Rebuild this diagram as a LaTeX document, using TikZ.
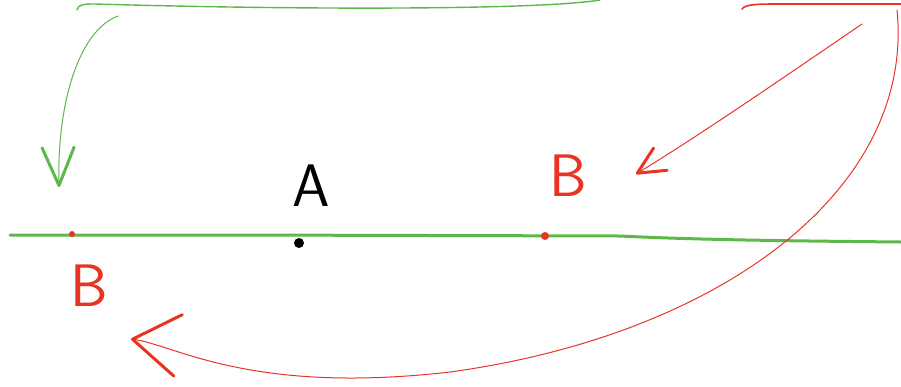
\documentclass[tikz,border=0pt]{standalone}
\usepackage{tikz}
\usetikzlibrary{arrows.meta,positioning}
\definecolor{sketchgreen}{RGB}{92,184,72}
\definecolor{sketchred}{RGB}{234,52,35}

\begin{document}
\begin{tikzpicture}[
    x=1pt, y=-1pt,
    font=\sffamily,
    dot/.style={circle, fill, inner sep=0pt, minimum size=#1},
    letter/.style={font=\fontsize{60}{60}\sffamily, inner sep=0pt},
    thinline/.style={line width=1pt, line cap=round},
    axis/.style={line width=3pt, line cap=round, sketchgreen},
    barb/.style n args={2}{-{Straight Barb[length=#1, width=#2, line width=3pt, round]}},
]
\useasboundingbox (0,0) rectangle (901,386);

%% ---- the line with its points ----
\coordinate (lineL) at (10,235);
\coordinate (lineR) at (901,242);
\draw[axis] (lineL) -- (240,235) -- (620,236) .. controls (700,240) and (800,241) .. (lineR);

\node[dot=6pt, sketchred]  (b1) at (72,234) {};
\node[dot=10pt, black]     (a)  at (299,243) {};
\node[dot=8pt, sketchred]  (b2) at (545,236) {};

%% ---- labels ----
\node[letter, black]     (alab)  at (311,186) {A};
\node[letter, sketchred] (blab1) at (89,286)  {B};
\node[letter, sketchred] (blab2) at (568,176) {B};

%% ---- green strokes at top left ----
\coordinate (gtopL) at (77,10);
\coordinate (gtopR) at (600,0);
\draw[thinline, sketchgreen, line width=1.4pt] (gtopL) .. controls (78,4) and (85,4) .. (95,4)
    .. controls (300,10) and (540,10) .. (gtopR);
\coordinate (gstart) at (118,16);
\coordinate (gtip)   at (59,187);
\draw[thinline, sketchgreen, barb={38pt}{32pt}] (gstart) .. controls (80,30) and (57,100) .. (gtip);

%% ---- red strokes at top right ----
\coordinate (rtopL) at (742,9);
\coordinate (rtopR) at (901,4);
\draw[thinline, sketchred, line width=1.6pt] (rtopL) .. controls (745,4) and (760,4) .. (780,4) -- (rtopR);
\coordinate (rstart) at (862,24);
\coordinate (rtip)   at (636,174);
\draw[thinline, sketchred, barb={27pt}{26pt}] (rstart) .. controls (780,80) and (700,135) .. (rtip);

%% ---- long red arrow round to the left ----
\coordinate (rbig) at (897,10);
\coordinate (rend) at (131,339);
\draw[thinline, sketchred, barb={46pt}{62pt}] (rbig) .. controls (915,190) and (720,335) .. (450,372)
    .. controls (250,395) and (175,345) .. (rend);
\end{tikzpicture}
\end{document}
